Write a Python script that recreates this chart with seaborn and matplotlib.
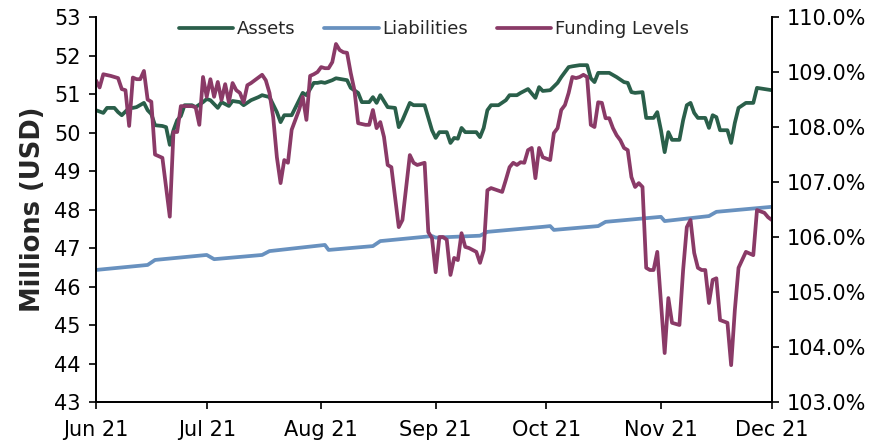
import pandas as pd
import matplotlib
matplotlib.use("Agg")
import matplotlib.pyplot as plt
import matplotlib.dates as mdates
from matplotlib.ticker import FuncFormatter
import seaborn as sns

# values
assets_dates = [
    "2021-06-01", "2021-06-03", "2021-06-04", "2021-06-06", "2021-06-07", "2021-06-08", "2021-06-10",
    "2021-06-11", "2021-06-12", "2021-06-14", "2021-06-15", "2021-06-16", "2021-06-17", "2021-06-19",
    "2021-06-20", "2021-06-21", "2021-06-22", "2021-06-23", "2021-06-24", "2021-06-25", "2021-06-27",
    "2021-06-28", "2021-06-30", "2021-07-01", "2021-07-02", "2021-07-04", "2021-07-05", "2021-07-07",
    "2021-07-08", "2021-07-10", "2021-07-11", "2021-07-13", "2021-07-15", "2021-07-16", "2021-07-18",
    "2021-07-20", "2021-07-21", "2021-07-22", "2021-07-24", "2021-07-26", "2021-07-27", "2021-07-28",
    "2021-07-30", "2021-07-31", "2021-08-01", "2021-08-02", "2021-08-04", "2021-08-05", "2021-08-08",
    "2021-08-09", "2021-08-11", "2021-08-12", "2021-08-14", "2021-08-15", "2021-08-16", "2021-08-17",
    "2021-08-19", "2021-08-21", "2021-08-22", "2021-08-23", "2021-08-25", "2021-08-26", "2021-08-29",
    "2021-08-30", "2021-08-31", "2021-09-01", "2021-09-02", "2021-09-04", "2021-09-05", "2021-09-06",
    "2021-09-07", "2021-09-08", "2021-09-09", "2021-09-12", "2021-09-13", "2021-09-14", "2021-09-15",
    "2021-09-16", "2021-09-18", "2021-09-20", "2021-09-21", "2021-09-23", "2021-09-24", "2021-09-26",
    "2021-09-28", "2021-09-29", "2021-09-30", "2021-10-02", "2021-10-04", "2021-10-05", "2021-10-07",
    "2021-10-08", "2021-10-10", "2021-10-12", "2021-10-13", "2021-10-14", "2021-10-15", "2021-10-17",
    "2021-10-18", "2021-10-20", "2021-10-22", "2021-10-23", "2021-10-24", "2021-10-25", "2021-10-27",
    "2021-10-28", "2021-10-30", "2021-10-31", "2021-11-01", "2021-11-02", "2021-11-03", "2021-11-04",
    "2021-11-06", "2021-11-07", "2021-11-08", "2021-11-09", "2021-11-10", "2021-11-11", "2021-11-13",
    "2021-11-14", "2021-11-15", "2021-11-16", "2021-11-17", "2021-11-19", "2021-11-20", "2021-11-21",
    "2021-11-22", "2021-11-24", "2021-11-26", "2021-11-27", "2021-11-29", "2021-12-01",
]
assets_musd = [
    50.58, 50.51, 50.64, 50.64, 50.53, 50.45, 50.64,
    50.64, 50.66, 50.77, 50.58, 50.48, 50.19, 50.17,
    50.14, 49.68, 50.06, 50.32, 50.43, 50.71, 50.71,
    50.66, 50.79, 50.87, 50.84, 50.64, 50.79, 50.69,
    50.82, 50.79, 50.71, 50.84, 50.92, 50.97, 50.92,
    50.53, 50.27, 50.45, 50.45, 50.84, 51.03, 50.97,
    51.29, 51.29, 51.31, 51.29, 51.36, 51.41, 51.36,
    51.16, 51.03, 50.79, 50.79, 50.92, 50.77, 50.97,
    50.66, 50.64, 50.14, 50.32, 50.77, 50.71, 50.71,
    50.38, 50.06, 49.86, 50.01, 50.01, 49.73, 49.86,
    49.84, 50.12, 50.01, 50.01, 49.88, 50.12, 50.58,
    50.71, 50.71, 50.84, 50.97, 50.97, 51.03, 51.13,
    50.90, 51.18, 51.08, 51.10, 51.29, 51.44, 51.70,
    51.72, 51.75, 51.75, 51.41, 51.31, 51.55, 51.55,
    51.55, 51.44, 51.31, 51.29, 51.05, 51.03, 51.05,
    50.38, 50.38, 50.53, 50.06, 49.49, 50.01, 49.81,
    49.81, 50.32, 50.71, 50.77, 50.51, 50.38, 50.38,
    50.12, 50.45, 50.40, 50.06, 50.06, 49.73, 50.25,
    50.64, 50.77, 50.77, 51.16, 51.13, 51.10,
]

liabilities_dates = [
    "2021-06-01", "2021-06-15", "2021-06-17", "2021-07-01", "2021-07-03", "2021-07-16", "2021-07-18",
    "2021-08-02", "2021-08-03", "2021-08-15", "2021-08-17", "2021-08-31", "2021-09-01", "2021-09-13",
    "2021-09-15", "2021-09-30", "2021-10-02", "2021-10-03", "2021-10-15", "2021-10-17", "2021-11-01",
    "2021-11-02", "2021-11-14", "2021-11-16", "2021-12-01",
]
liabilities_musd = [
    46.43, 46.56, 46.69, 46.82, 46.71, 46.82, 46.92,
    47.08, 46.95, 47.05, 47.18, 47.31, 47.27, 47.32,
    47.42, 47.55, 47.57, 47.47, 47.57, 47.68, 47.81,
    47.70, 47.83, 47.94, 48.07,
]

funding_dates = [
    "2021-06-01", "2021-06-02", "2021-06-03", "2021-06-05", "2021-06-07", "2021-06-08", "2021-06-09",
    "2021-06-10", "2021-06-11", "2021-06-12", "2021-06-13", "2021-06-14", "2021-06-15", "2021-06-16",
    "2021-06-17", "2021-06-19", "2021-06-21", "2021-06-22", "2021-06-23", "2021-06-24", "2021-06-27",
    "2021-06-28", "2021-06-29", "2021-06-30", "2021-07-01", "2021-07-02", "2021-07-03", "2021-07-04",
    "2021-07-05", "2021-07-06", "2021-07-07", "2021-07-08", "2021-07-09", "2021-07-10", "2021-07-11",
    "2021-07-12", "2021-07-13", "2021-07-14", "2021-07-16", "2021-07-17", "2021-07-18", "2021-07-19",
    "2021-07-20", "2021-07-21", "2021-07-22", "2021-07-23", "2021-07-24", "2021-07-26", "2021-07-27",
    "2021-07-28", "2021-07-29", "2021-07-30", "2021-07-31", "2021-08-01", "2021-08-02", "2021-08-03",
    "2021-08-04", "2021-08-05", "2021-08-06", "2021-08-07", "2021-08-08", "2021-08-09", "2021-08-10",
    "2021-08-11", "2021-08-13", "2021-08-14", "2021-08-15", "2021-08-16", "2021-08-17", "2021-08-18",
    "2021-08-19", "2021-08-20", "2021-08-21", "2021-08-22", "2021-08-23", "2021-08-25", "2021-08-26",
    "2021-08-27", "2021-08-29", "2021-08-30", "2021-08-31", "2021-09-01", "2021-09-02", "2021-09-03",
    "2021-09-04", "2021-09-05", "2021-09-06", "2021-09-07", "2021-09-08", "2021-09-09", "2021-09-10",
    "2021-09-12", "2021-09-13", "2021-09-14", "2021-09-15", "2021-09-16", "2021-09-19", "2021-09-20",
    "2021-09-21", "2021-09-22", "2021-09-23", "2021-09-24", "2021-09-25", "2021-09-26", "2021-09-27",
    "2021-09-28", "2021-09-29", "2021-09-30", "2021-10-02", "2021-10-03", "2021-10-04", "2021-10-05",
    "2021-10-06", "2021-10-07", "2021-10-08", "2021-10-09", "2021-10-10", "2021-10-11", "2021-10-12",
    "2021-10-13", "2021-10-14", "2021-10-15", "2021-10-16", "2021-10-17", "2021-10-18", "2021-10-19",
    "2021-10-20", "2021-10-21", "2021-10-22", "2021-10-23", "2021-10-24", "2021-10-25", "2021-10-26",
    "2021-10-27", "2021-10-28", "2021-10-29", "2021-10-30", "2021-10-31", "2021-11-01", "2021-11-02",
    "2021-11-03", "2021-11-04", "2021-11-06", "2021-11-07", "2021-11-08", "2021-11-09", "2021-11-10",
    "2021-11-11", "2021-11-12", "2021-11-13", "2021-11-14", "2021-11-15", "2021-11-16", "2021-11-17",
    "2021-11-19", "2021-11-20", "2021-11-21", "2021-11-22", "2021-11-24", "2021-11-26", "2021-11-27",
    "2021-11-29", "2021-11-30", "2021-12-01",
]
funding_pct = [
    108.85, 108.72, 108.96, 108.93, 108.89, 108.69, 108.67,
    108.02, 108.90, 108.87, 108.87, 109.02, 108.50, 108.46,
    107.50, 107.44, 106.37, 107.91, 107.91, 108.38, 108.38,
    108.36, 108.04, 108.91, 108.55, 108.87, 108.55, 108.82,
    108.49, 108.78, 108.45, 108.80, 108.67, 108.62, 108.45,
    108.76, 108.80, 108.85, 108.95, 108.85, 108.62, 108.18,
    107.45, 106.98, 107.40, 107.35, 107.95, 108.31, 108.55,
    108.13, 108.93, 108.96, 109.00, 109.09, 109.07, 109.07,
    109.18, 109.51, 109.40, 109.36, 109.35, 108.98, 108.67,
    108.07, 108.04, 108.04, 108.31, 107.98, 108.09, 107.82,
    107.31, 107.27, 106.73, 106.18, 106.31, 107.49, 107.35,
    107.31, 107.35, 106.09, 105.98, 105.36, 106.00, 106.00,
    105.95, 105.31, 105.62, 105.58, 106.07, 105.82, 105.80,
    105.73, 105.53, 105.76, 106.85, 106.89, 106.82, 107.04,
    107.27, 107.35, 107.31, 107.36, 107.35, 107.58, 107.62,
    107.07, 107.62, 107.45, 107.40, 107.89, 107.98, 108.31,
    108.40, 108.62, 108.91, 108.89, 108.91, 108.95, 108.91,
    108.04, 108.00, 108.45, 108.44, 108.16, 108.16, 107.98,
    107.85, 107.76, 107.62, 107.58, 107.09, 106.91, 106.98,
    106.91, 105.44, 105.40, 105.40, 105.73, 104.80, 103.89,
    104.89, 104.44, 104.40, 105.40, 106.18, 106.31, 105.71,
    105.44, 105.40, 105.40, 104.80, 105.22, 105.25, 104.49,
    104.44, 103.67, 104.67, 105.44, 105.73, 105.67, 106.49,
    106.44, 106.36, 106.31,
]

left_ticks = list(range(43, 54))
right_ticks = list(range(103, 111))

assets_df = pd.DataFrame({"date": pd.to_datetime(assets_dates), "value": assets_musd})
liab_df = pd.DataFrame({"date": pd.to_datetime(liabilities_dates), "value": liabilities_musd})
fund_df = pd.DataFrame({"date": pd.to_datetime(funding_dates), "value": funding_pct})

sns.set_style("ticks")
plt.rcParams["font.family"] = ["DejaVu Sans"]

green = "#2a5f4a"
blue = "#6891bf"
plum = "#8a3a67"
lw = 2.7

fig = plt.figure(figsize=(8.8, 4.44), dpi=100)
ax = fig.add_axes([0.109, 0.0946, 0.768, 0.867])
ax2 = ax.twinx()

sns.lineplot(data=assets_df, x="date", y="value", ax=ax, color=green, lw=lw, label="Assets", legend=False)
sns.lineplot(data=liab_df, x="date", y="value", ax=ax, color=blue, lw=lw, label="Liabilities", legend=False)
sns.lineplot(data=fund_df, x="date", y="value", ax=ax2, color=plum, lw=lw, label="Funding Levels", legend=False)

ax.set_xlim(pd.Timestamp("2021-06-01"), pd.Timestamp("2021-12-01"))
ax.set_ylim(43, 53)
ax2.set_ylim(103, 110)
ax.set_yticks(left_ticks)
ax2.set_yticks(right_ticks)
ax2.yaxis.set_major_formatter(FuncFormatter(lambda v, p: f"{v:.1f}%"))

ax.xaxis.set_major_locator(mdates.MonthLocator())
ax.xaxis.set_major_formatter(mdates.DateFormatter("%b %y"))

ax.set_xlabel("")
ax.set_ylabel("Millions (USD)", fontsize=18.5, fontweight="bold", labelpad=6)
ax2.set_ylabel("")

for a in (ax, ax2):
    a.spines["top"].set_visible(False)
    for s in ("left", "right", "bottom"):
        a.spines[s].set_color("black")
        a.spines[s].set_linewidth(1.3)
    a.tick_params(axis="both", which="major", labelsize=15, length=5, width=1.2,
                  color="black", labelcolor="black", direction="out")
ax.tick_params(axis="x", pad=8)
ax.tick_params(axis="y", pad=6)
ax2.tick_params(axis="y", pad=6)

# legend collects lines from both axes
handles = ax.get_lines()[:2] + ax2.get_lines()[:1]
ax2.legend(handles, ["Assets", "Liabilities", "Funding Levels"], loc="upper center",
           bbox_to_anchor=(0.5, 1.035), ncol=3, frameon=False, fontsize=13,
           handlelength=3.0, handletextpad=0.2, columnspacing=1.6)

fig.savefig("out.png", dpi=100)
